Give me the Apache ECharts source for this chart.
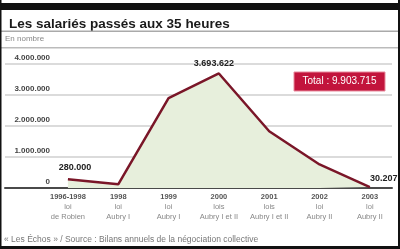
<!DOCTYPE html>
<html><head><meta charset="utf-8">
<script src="https://cdn.jsdelivr.net/npm/echarts@6/dist/echarts.min.js"></script>
<style>html,body{margin:0;padding:0;background:#fff}#c{width:400px;height:249px}</style>
</head><body><div id="c"></div>
<script>
var years = ['1996-1998','1998','1999','2000','2001','2002','2003'];
var loiWords = ['loi','loi','loi','lois','lois','loi','loi'];
var laws = ['de Robien','Aubry I','Aubry I','Aubry I et II','Aubry I et II','Aubry II','Aubry II'];
var salaries = [280000, 120000, 2900000, 3693622, 1830000, 760000, 30207];
var yTicks = [0, 1000000, 2000000, 3000000, 4000000];
var totalText = 'Total : 9.903.715';
var titleText = 'Les salariés passés aux 35 heures';
var unitText = 'En nombre';
var sourceText = '« Les Échos » / Source : Bilans annuels de la négociation collective';
var labelled = {0:{offset:[7,-2]}, 3:{offset:[-5,0]}, 6:{offset:[14,1]}};

function fmt(n){ return String(n).replace(/\B(?=(\d{3})+(?!\d))/g, '.'); }

var seriesData = salaries.map(function(v,i){
  var d = {value:[i,v], label:{show:false}};
  if (labelled[i]) {
    d.label = {show:true, position:'top', offset:labelled[i].offset};
  }
  return d;
});

var chart = echarts.init(document.getElementById('c'), null, {renderer:'canvas'});
chart.setOption({
  animation:false,
  backgroundColor:'#fff',
  title:{text:titleText, left:4, top:12, textStyle:{fontFamily:'Liberation Sans, Arial, sans-serif', fontWeight:'bold', fontSize:13.5, color:'#1a1a1a'}},
  grid:{left:5, right:8, top:64, bottom:61},
  xAxis:{type:'value', min:-1.25, max:6.44,
    axisLine:{show:true, onZero:false, lineStyle:{color:'#4a4a4a', width:2}},
    axisTick:{show:false}, splitLine:{show:false},
    axisLabel:{customValues:[0,1,2,3,4,5,6], margin:4,
      formatter:function(v){var i=Math.round(v);return '{y|'+years[i]+'}\n{l|'+loiWords[i]+'}\n{l|'+laws[i]+'}';},
      rich:{y:{fontFamily:'Liberation Sans, Arial, sans-serif', fontSize:7.5, fontWeight:'bold', color:'#555', lineHeight:10},
            l:{fontFamily:'Liberation Sans, Arial, sans-serif', fontSize:7.5, color:'#888', lineHeight:10}}}
  },
  yAxis:{type:'value', min:0, max:4000000, interval:1000000,
    axisLine:{show:false}, axisTick:{show:false},
    splitLine:{lineStyle:{color:'#cfcfcf', width:1.5}},
    axisLabel:{inside:true, align:'right', margin:45, verticalAlign:'bottom', padding:[0,0,2,0],
      formatter:function(v){return fmt(v);},
      fontFamily:'Liberation Sans, Arial, sans-serif', fontSize:8, fontWeight:'bold', color:'#444'}
  },
  series:[{type:'line', data:seriesData, symbol:'circle', symbolSize:0.1, showSymbol:true, z:3,
    itemStyle:{color:'#7a1628'},
    label:{show:false, formatter:function(p){return fmt(p.value[1]);},
      fontFamily:'Liberation Sans, Arial, sans-serif', fontWeight:'bold', fontSize:9, color:'#222'},
    lineStyle:{color:'#7a1628', width:2.5},
    areaStyle:{color:'#e7efdc', opacity:1}}],
  graphic:[
    {type:'rect', shape:{x:1,y:3,width:399,height:7}, style:{fill:'#111'}, z:10},
    {type:'rect', shape:{x:1,y:30.5,width:397,height:1.5}, style:{fill:'#aaa'}, z:10},
    {type:'rect', shape:{x:1,y:47,width:397,height:1.5}, style:{fill:'#bbb'}, z:10},
    {type:'text', left:5, top:35, style:{text:unitText, fontFamily:'Liberation Sans, Arial, sans-serif', fontSize:8, fill:'#888'}, z:10},
    {type:'rect', shape:{x:294,y:72,width:91,height:19}, style:{fill:'#c2143c', stroke:'#e88a9c', lineWidth:1}, z:10},
    {type:'text', x:339.5, y:81.5, style:{text:totalText, align:'center', verticalAlign:'middle', fontFamily:'Liberation Sans, Arial, sans-serif', fontSize:10, fill:'#fff'}, z:11},
    {type:'text', left:4, top:235, style:{text:sourceText, fontFamily:'Liberation Sans, Arial, sans-serif', fontSize:8.5, fill:'#777'}, z:10},
    {type:'rect', shape:{x:0,y:0,width:1.5,height:249}, style:{fill:'#111'}, z:10},
    {type:'rect', shape:{x:398,y:0,width:2,height:249}, style:{fill:'#111'}, z:10},
    {type:'rect', shape:{x:0,y:246,width:400,height:3}, style:{fill:'#111'}, z:10}
  ]
});
</script></body></html>
